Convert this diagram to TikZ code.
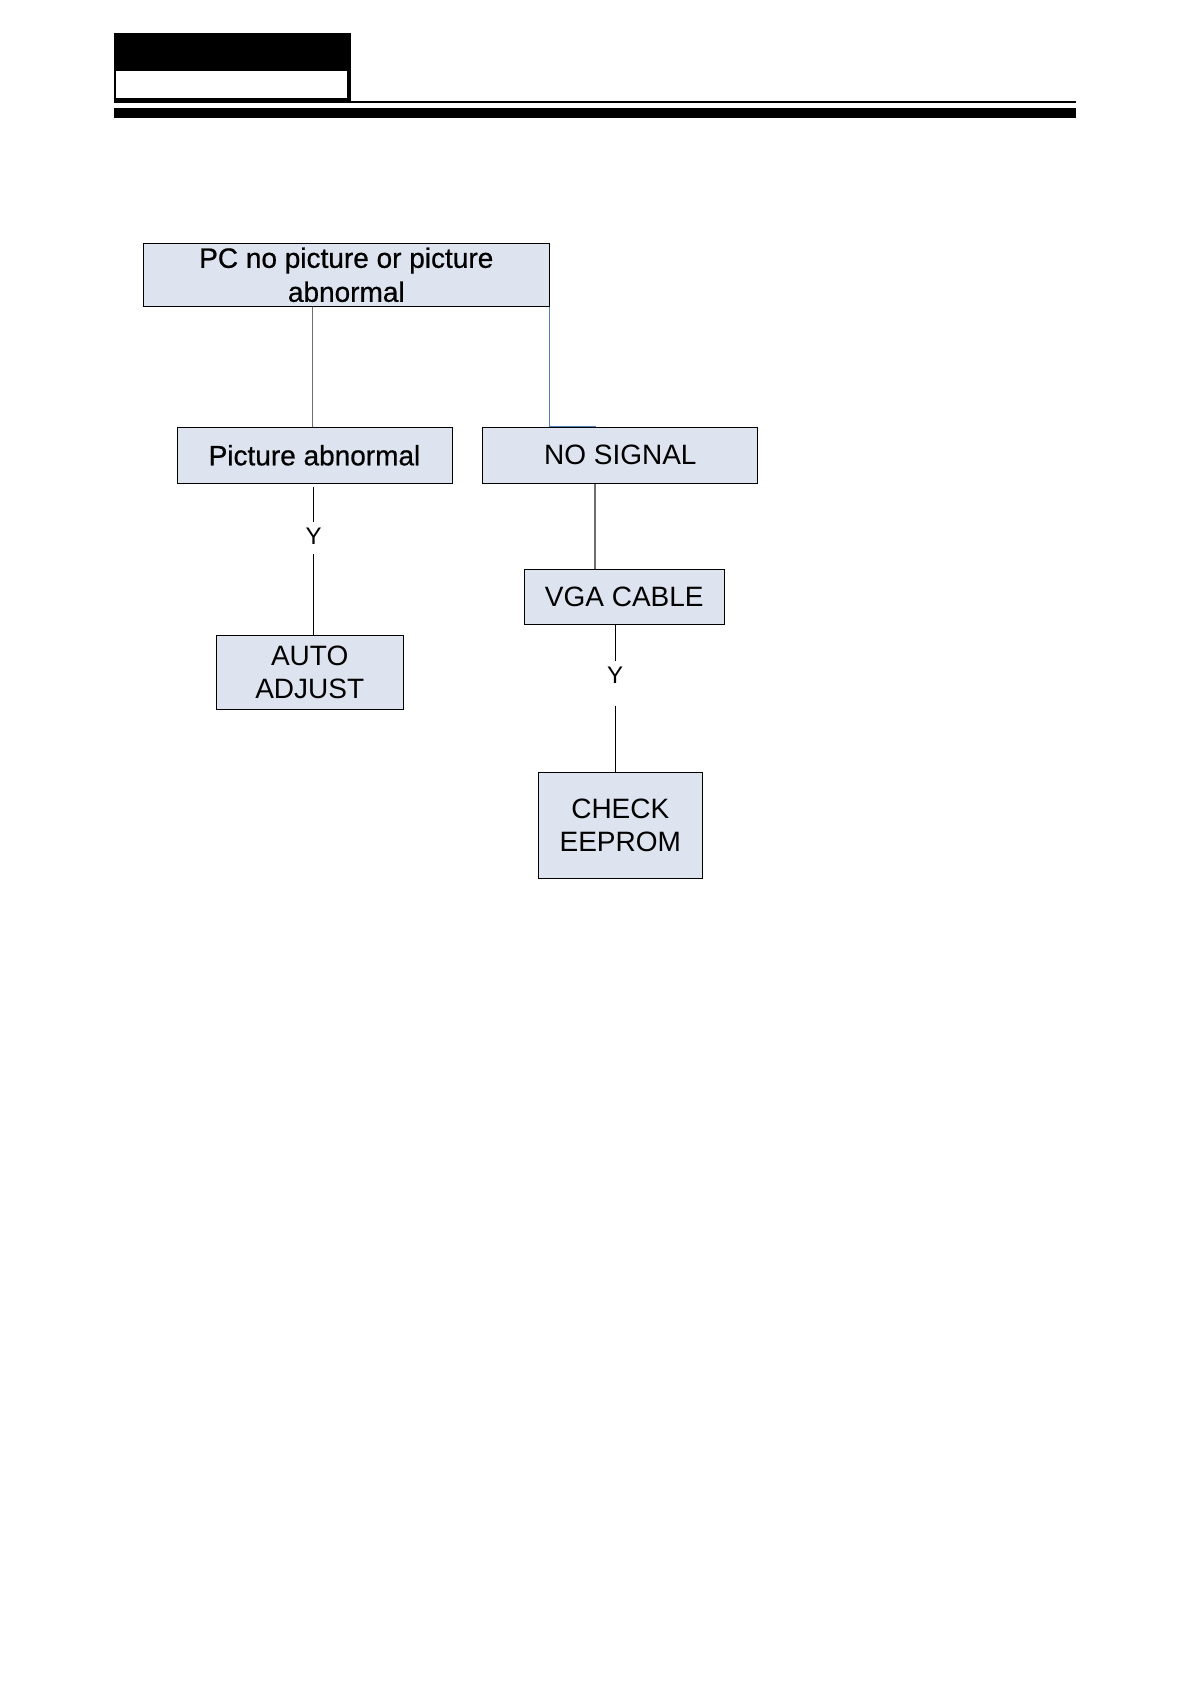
\documentclass[tikz,border=0pt]{standalone}
\usepackage{fontspec}
\setmainfont{Liberation Sans}
\newfontfamily\heavyfont{Liberation Sans}[FakeBold=0.6]
\definecolor{boxfill}{RGB}{221,228,240}
\definecolor{linkblue}{RGB}{84,126,186}
\definecolor{linkgray}{RGB}{110,110,110}
\begin{document}
\begin{tikzpicture}[x=0.5pt,y=-0.5pt,
  box/.style={draw=black,line width=0.5pt,fill=boxfill,inner sep=0pt,align=center,font=\fontsize{14}{17}\selectfont},
  ylab/.style={inner sep=0pt,font=\fontsize{12}{14}\selectfont},
  link/.style={draw=black,line width=0.5pt}]
\useasboundingbox (0,0) rectangle (1190,1684);
% header
\fill[black] (114,32.7) rectangle (351,103.3);
\fill[white] (116,70.7) rectangle (347,98);
\fill[black] (351,101) rectangle (1076,103.3);
\fill[black] (114,108.3) rectangle (1076,117.7);
% boxes
\node[box,minimum width=203pt,minimum height=31.5pt,font=\heavyfont\fontsize{14}{17}\selectfont] (top) at (346.3,274.8) {PC no picture or picture\\abnormal};
\node[box,minimum width=137.5pt,minimum height=28pt,font=\heavyfont\fontsize{14}{17}\selectfont] (pa) at (314.5,455.3) {Picture abnormal};
\node[box,minimum width=137.5pt,minimum height=28pt] (ns) at (620.3,455.3) {NO SIGNAL};
\node[box,minimum width=100.3pt,minimum height=27.5pt] (vga) at (624.3,596.8) {VGA CABLE};
\node[box,minimum width=93.7pt,minimum height=37.2pt,font=\fontsize{14}{16.5}\selectfont] (aa) at (309.7,672.2) {AUTO\\ADJUST};
\node[box,minimum width=82pt,minimum height=53pt,font=\fontsize{14}{16.5}\selectfont] (ce) at (620.3,825.3) {CHECK\\EEPROM};
\node[ylab] (yl) at (313.5,536) {Y};
\node[ylab] (yr) at (615,675) {Y};
% connectors
\draw[link,draw=linkgray] ([xshift=-1pt]pa.north) -- ([xshift=-1pt]pa.north |- top.south);
\draw[link,draw=linkblue] (top.south east) -- (top.south east |- ns.north) -- ([xshift=22.9pt]top.south east |- ns.north);
\draw[link] ([yshift=-1.7pt]pa.south -| yl) -- ([yshift=2.5pt]yl.north);
\draw[link] ([yshift=-4.5pt]yl.south) -- (aa.north -| yl);
\draw[link,draw=linkgray,line width=1pt] ([xshift=-12.5pt]ns.south) -- ([xshift=-12.5pt]ns.south |- vga.north);
\draw[link] (vga.south -| yr) -- ([yshift=2.7pt]yr.north);
\draw[link] ([yshift=-11pt]yr.south) -- (ce.north -| yr);
\end{tikzpicture}
\end{document}
